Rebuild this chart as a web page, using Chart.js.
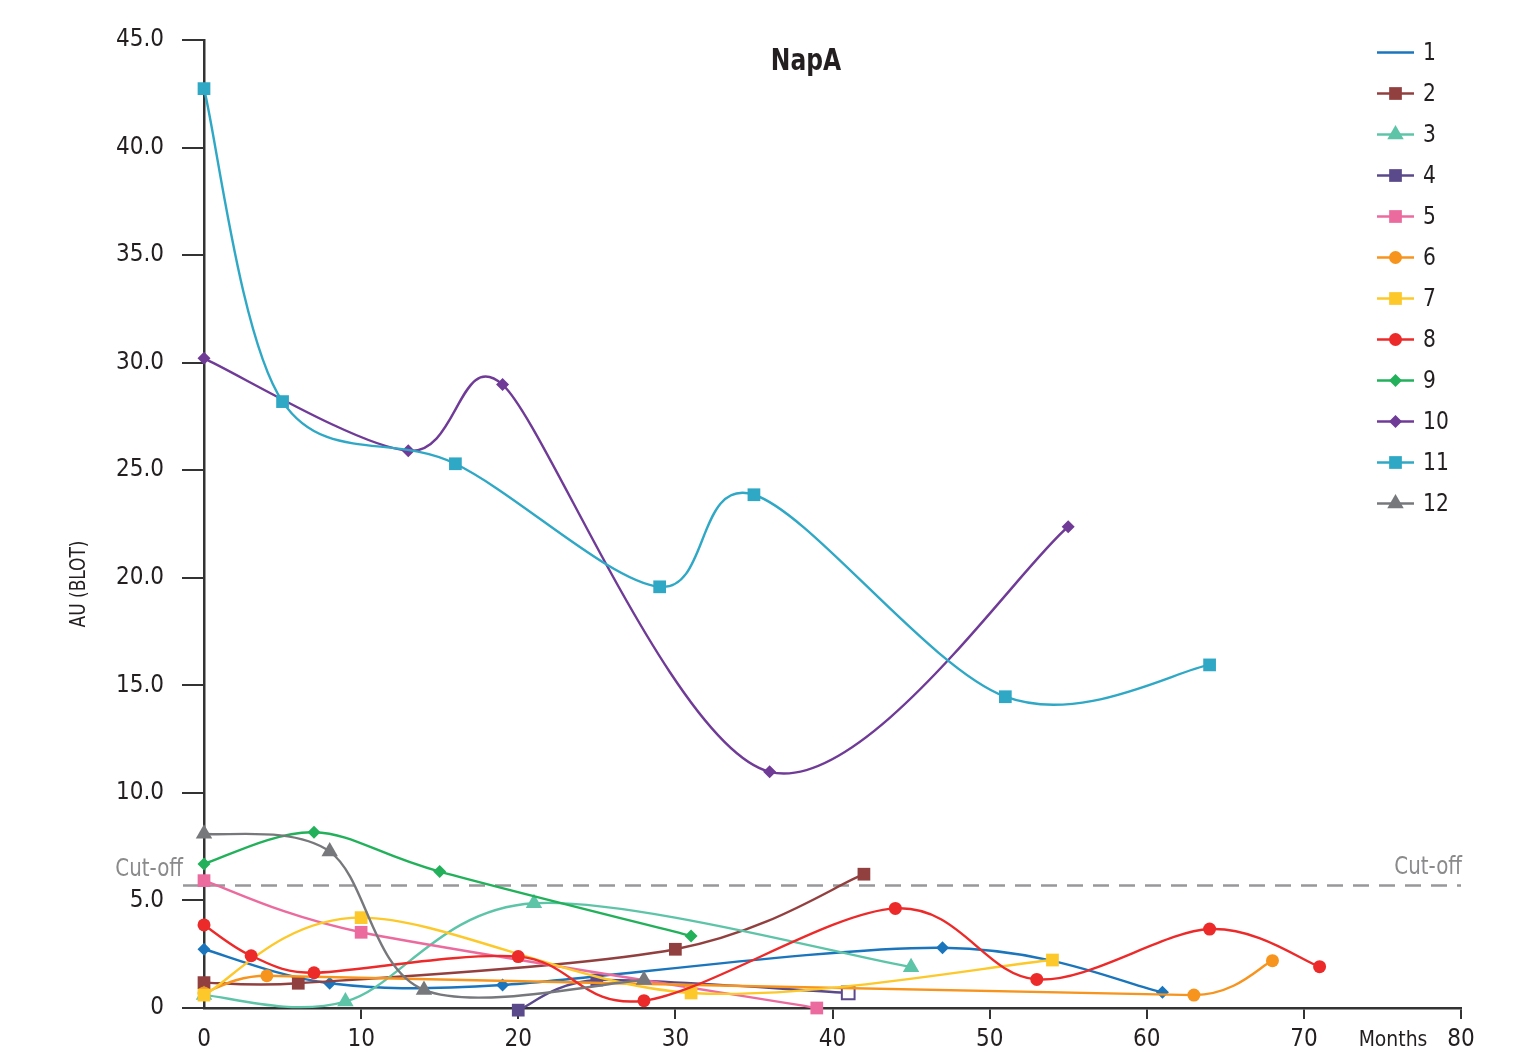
<!DOCTYPE html>
<html>
<head>
<meta charset="utf-8">
<title>NapA</title>
<script src="https://cdn.jsdelivr.net/npm/chart.js@4.4.1/dist/chart.umd.min.js"></script>
<style>
  html, body { margin: 0; padding: 0; background: #ffffff; }
  #wrap { width: 1521px; height: 1052px; }
  canvas { display: block; }
</style>
</head>
<body>
<div id="wrap"><canvas id="chart" width="1521" height="1052"></canvas></div>
<script>
// Follow-up months and antibody units (AU, blot) per patient
const seriesNames = ['1', '2', '3', '4', '5', '6', '7', '8', '9', '10', '11', '12'];

const months1 = [0, 8, 19, 47, 61];
const au1     = [2.73, 1.15, 1.07, 2.8, 0.73];

const months2 = [0, 6, 30, 42];
const au2     = [1.18, 1.15, 2.73, 6.22];

const months3 = [0, 9, 21, 45];
const au3     = [0.6, 0.3, 4.87, 1.9];

const months4 = [20, 25, 41];
const au4     = [-0.1, 1.3, 0.7];

const months5 = [0, 10, 39];
const au5     = [5.92, 3.52, 0];

const months6 = [0, 4, 63, 68];
const au6     = [0.7, 1.5, 0.6, 2.2];

const months7 = [0, 10, 31, 54];
const au7     = [0.6, 4.2, 0.7, 2.23];

const months8 = [0, 3, 7, 20, 28, 44, 53, 64, 71];
const au8     = [3.86, 2.43, 1.64, 2.39, 0.34, 4.63, 1.33, 3.67, 1.92];

const months9 = [0, 7, 15, 31];
const au9     = [6.7, 8.17, 6.34, 3.35];

const months10 = [0, 13, 19, 36, 55];
const au10     = [30.2, 25.9, 28.98, 10.98, 22.37];

const months11 = [0, 5, 16, 29, 35, 51, 64];
const au11     = [42.74, 28.19, 25.3, 19.58, 23.86, 14.47, 15.95];

const months12 = [0, 8, 14, 28];
const au12     = [8.1, 7.27, 0.84, 1.3];

const CUTOFF = 5.7;
const xTicks = [0, 10, 20, 30, 40, 50, 60, 70, 80];
const yTicks = [0, 5, 10, 15, 20, 25, 30, 35, 40, 45];

const FONT = "'Liberation Sans Narrow','DejaVu Sans Condensed','Roboto Condensed','Arial Narrow',sans-serif";
const TEXT = '#231f20';

// Visual style per patient line
const styles = [
  { color: '#1a75bc', shape: 'rectRot',  r: 6.5, legendMarker: false },
  { color: '#92403f', shape: 'rect',     r: 9 },
  { color: '#5ec4a8', shape: 'triangle', r: 9.5 },
  { color: '#5b4a8b', shape: 'rect',     r: 9 },
  { color: '#ec6b9e', shape: 'rect',     r: 9 },
  { color: '#f7941d', shape: 'circle',   r: 6.5 },
  { color: '#fcc82a', shape: 'rect',     r: 9 },
  { color: '#ed2a2a', shape: 'circle',   r: 6.5 },
  { color: '#22b15a', shape: 'rectRot',  r: 6.5 },
  { color: '#6f3b97', shape: 'rectRot',  r: 6.5 },
  { color: '#2fa8c6', shape: 'rect',     r: 9 },
  { color: '#77787b', shape: 'triangle', r: 9.5 }
];

const monthLists = [months1, months2, months3, months4, months5, months6, months7, months8, months9, months10, months11, months12];
const auLists    = [au1, au2, au3, au4, au5, au6, au7, au8, au9, au10, au11, au12];

const datasets = seriesNames.map((name, i) => {
  const st = styles[i];
  const pts = monthLists[i].map((m, k) => ({ x: m, y: auLists[i][k] }));
  const n = pts.length;
  // patient 4: last sample drawn as an open marker
  const fill = pts.map((p, k) => (i === 3 && k === n - 1) ? '#ffffff' : st.color);
  const bw = pts.map((p, k) => (i === 3 && k === n - 1) ? 2 : 0);
  return {
    label: name,
    data: pts,
    borderColor: st.color,
    backgroundColor: st.color,
    borderWidth: 2.4,
    tension: 0.4,
    fill: false,
    clip: false,
    pointStyle: st.shape,
    pointRadius: st.r,
    pointHoverRadius: st.r,
    pointBackgroundColor: fill,
    pointBorderColor: st.color,
    pointBorderWidth: bw,
    order: seriesNames.length - i
  };
});

// Smoothed curves: tangent along (next - prev), handle length = |next - prev| / 6,
// limited to half of the shorter neighbouring segment so uneven spacing never loops.
const smoothLines = {
  id: 'smoothLines',
  beforeDatasetsDraw(chart) {
    const dist = (a, b) => Math.hypot(b.x - a.x, b.y - a.y);
    chart.data.datasets.forEach((ds, i) => {
      const meta = chart.getDatasetMeta(i);
      const line = meta.dataset;
      if (!line || !line.updateControlPoints) return;
      line.updateControlPoints(chart.chartArea, 'x');
      const pts = meta.data;
      const n = pts.length;
      for (let k = 0; k < n; k++) {
        const p = pts[k];
        let tx = 0, ty = 0;
        if (n > 1 && (k === 0 || k === n - 1)) {
          const q = k === 0 ? pts[1] : pts[n - 2];
          const s = k === 0 ? 1 : -1;
          tx = s * (q.x - p.x) / 6;
          ty = s * (q.y - p.y) / 6;
        } else if (n > 2) {
          const prev = pts[k - 1], next = pts[k + 1];
          const d02 = dist(prev, next);
          if (d02 > 0) {
            const len = Math.min(d02 / 6, dist(prev, p) / 2, dist(p, next) / 2);
            tx = (next.x - prev.x) / d02 * len;
            ty = (next.y - prev.y) / d02 * len;
          }
        }
        p.cp1x = p.x - tx; p.cp1y = p.y - ty;
        p.cp2x = p.x + tx; p.cp2y = p.y + ty;
      }
    });
  }
};

function drawMarker(ctx, shape, r, x, y, color) {
  ctx.save();
  ctx.fillStyle = color;
  ctx.beginPath();
  if (shape === 'rect') {
    const h = r * Math.SQRT1_2;
    ctx.rect(x - h, y - h, 2 * h, 2 * h);
  } else if (shape === 'rectRot') {
    ctx.moveTo(x, y - r); ctx.lineTo(x + r, y); ctx.lineTo(x, y + r); ctx.lineTo(x - r, y);
    ctx.closePath();
  } else if (shape === 'circle') {
    ctx.arc(x, y, r, 0, Math.PI * 2);
  } else if (shape === 'triangle') {
    const a = r * Math.sin(Math.PI / 3);
    ctx.moveTo(x, y - r); ctx.lineTo(x + a, y + r / 2); ctx.lineTo(x - a, y + r / 2);
    ctx.closePath();
  }
  ctx.fill();
  ctx.restore();
}

// narrow text: horizontally condensed glyphs
function narrowText(ctx, text, x, y, squeeze) {
  ctx.save();
  ctx.translate(x, y);
  ctx.scale(squeeze, 1);
  ctx.fillText(text, 0, 0);
  ctx.restore();
}

const decorations = {
  id: 'decorations',
  beforeDatasetsDraw(chart) {
    const ctx = chart.ctx;
    const area = chart.chartArea;
    const yS = chart.scales.y;
    const yc = Math.round(yS.getPixelForValue(CUTOFF)) + 0.5;
    ctx.save();
    ctx.strokeStyle = '#98989a';
    ctx.lineWidth = 2.6;
    ctx.setLineDash([16, 10]);
    ctx.beginPath();
    ctx.moveTo(area.left - 21, yc);
    ctx.lineTo(area.right, yc);
    ctx.stroke();
    ctx.restore();
  },
  afterDraw(chart) {
    const ctx = chart.ctx;
    const area = chart.chartArea;
    const yS = chart.scales.y;
    const yc = yS.getPixelForValue(CUTOFF);
    ctx.save();
    // title
    ctx.fillStyle = TEXT;
    ctx.font = 'bold 31px ' + FONT;
    ctx.textAlign = 'center';
    ctx.textBaseline = 'middle';
    narrowText(ctx, 'NapA', 806, 62, 0.84);

    // cut-off captions
    ctx.fillStyle = '#8a8a8c';
    ctx.font = '24px ' + FONT;
    ctx.textAlign = 'right';
    narrowText(ctx, 'Cut-off', area.left - 21, yc - 16, 0.92);
    narrowText(ctx, 'Cut-off', area.right + 1, yc - 18, 0.92);

    // axis captions
    ctx.fillStyle = TEXT;
    ctx.font = '22px ' + FONT;
    ctx.textAlign = 'center';
    narrowText(ctx, 'Months', 1393, 1040, 0.95);
    ctx.save();
    ctx.translate(80, 584);
    ctx.rotate(-Math.PI / 2);
    ctx.font = '21px ' + FONT;
    narrowText(ctx, 'AU (BLOT)', 0, 0, 0.9);
    ctx.restore();

    // legend
    const lx0 = 1377, lx1 = 1414, tx = 1423;
    ctx.font = '25px ' + FONT;
    ctx.textAlign = 'left';
    chart.data.datasets.forEach((ds, i) => {
      const st = styles[i];
      const y = 52.5 + i * 41;
      ctx.strokeStyle = st.color;
      ctx.lineWidth = 2.6;
      ctx.setLineDash([]);
      ctx.beginPath();
      ctx.moveTo(lx0, y);
      ctx.lineTo(lx1, y);
      ctx.stroke();
      if (st.legendMarker !== false) {
        drawMarker(ctx, st.shape, st.r, (lx0 + lx1) / 2, y, st.color);
      }
      ctx.fillStyle = TEXT;
      narrowText(ctx, ds.label, tx, y + 1, 0.9);
    });
    ctx.restore();
  }
};

Chart.defaults.font.family = FONT;
Chart.defaults.color = TEXT;

new Chart(document.getElementById('chart'), {
  type: 'line',
  data: { datasets },
  options: {
    responsive: false,
    animation: false,
    devicePixelRatio: 1,
    layout: { padding: { top: 40, right: 60, bottom: 0, left: 0 } },
    plugins: {
      legend: { display: false },
      title: { display: false },
      tooltip: { enabled: false }
    },
    scales: {
      x: {
        type: 'linear',
        min: 0,
        max: 80,
        afterBuildTicks(scale) { scale.ticks = xTicks.map(v => ({ value: v })); },
        afterFit(scale) { scale.height = 44; },
        ticks: {
          font: { size: 24 },
          color: TEXT,
          padding: 6,
          maxRotation: 0,
          callback: v => String(v)
        },
        grid: {
          drawOnChartArea: false,
          drawTicks: true,
          tickLength: 11,
          lineWidth: 2,
          color: ctx => (ctx.tick && ctx.tick.value === 0) ? 'rgba(0,0,0,0)' : '#333333'
        },
        border: { display: true, color: '#333333', width: 2.5 }
      },
      y: {
        type: 'linear',
        min: 0,
        max: 45,
        afterBuildTicks(scale) { scale.ticks = yTicks.map(v => ({ value: v })); },
        afterFit(scale) { scale.width = 204; },
        ticks: {
          font: { size: 24 },
          color: TEXT,
          padding: 18,
          callback: v => v === 0 ? '0' : v.toFixed(1)
        },
        grid: {
          drawOnChartArea: false,
          drawTicks: true,
          tickLength: 22,
          lineWidth: 2,
          color: '#333333'
        },
        border: { display: true, color: '#333333', width: 2.5 }
      }
    }
  },
  plugins: [smoothLines, decorations]
});
</script>
</body>
</html>
